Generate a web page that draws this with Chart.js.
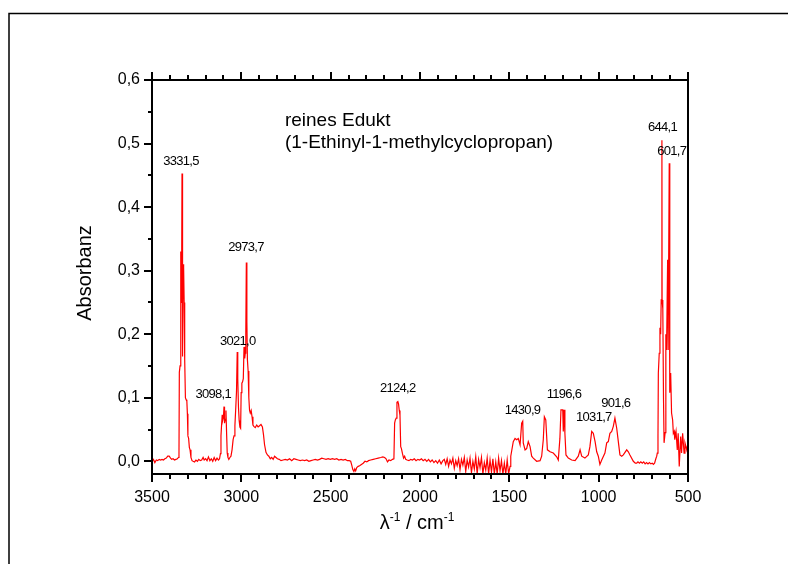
<!DOCTYPE html>
<html>
<head>
<meta charset="utf-8">
<script src="https://cdn.jsdelivr.net/npm/chart.js@4.4.0/dist/chart.umd.min.js"></script>
<style>
  html, body { margin: 0; padding: 0; background: #fff; }
  #wrap { width: 790px; height: 564px; }
</style>
</head>
<body>
<div id="wrap"><canvas id="js-spectrum" width="790" height="564"></canvas></div>
<script>
  /* ━━━━  DATA  ━━━━ */
  const wavenumbers = [
    3500,3492,3484,3476,3468,3460,3452,3444,3436,3428,3420,3412,3404,3396,3390,3382,3374,3366,3358,3352,
    3349,3347,3343,3340,3338,3336,3334,3332,3330,3328,3326,3323,3320,3317,3313,3309,3305,3302,3299,3295,
    3291,3287,3282,3276,3270,3262,3254,3246,3238,3230,3222,3214,3208,3200,3192,3184,3176,3168,3160,3152,
    3144,3136,3128,3122,3117,3114,3110,3107,3104,3100,3097,3094,3090,3086,3082,3079,3075,3070,3064,3058,
    3052,3046,3041,3036,3031,3027,3023,3020,3016,3012,3008,3004,3001,2997,2993,2989,2985,2981,2978,2975,
    2972,2969,2966,2962,2958,2954,2950,2945,2940,2935,2930,2922,2914,2906,2898,2890,2882,2876,2870,2862,
    2854,2846,2838,2830,2822,2814,2806,2798,2788,2778,2766,2754,2742,2730,2718,2706,2694,2682,2670,2658,
    2646,2634,2622,2610,2598,2586,2574,2562,2550,2538,2526,2514,2502,2490,2478,2466,2454,2442,2430,2418,
    2406,2396,2388,2382,2376,2370,2365,2360,2354,2346,2338,2328,2318,2308,2298,2288,2276,2262,2248,2234,
    2220,2208,2198,2190,2182,2174,2164,2154,2146,2142,2138,2133,2129,2124,2120,2116,2112,2108,2104,2098,
    2092,2086,2080,2072,2062,2052,2042,2032,2022,2012,2002,1992,1982,1972,1962,1952,1942,1932,1922,1912,
    1902,1892,1882,1872,
    1864,1856,1848,1840,1832,1824,1816,1808,1800,1792,1784,1776,1768,1760,1752,1744,1736,1728,1720,1712,
    1704,1696,1688,1680,1672,1664,1656,1648,1640,1632,1624,1616,1608,1600,1592,1584,1576,1568,1560,1552,
    1544,1536,1528,1520,1512,1504,1496,1492,
    1478,1468,1459,1450,1440,1431,1425,1422,1412,1403,1394,1384,1375,1366,1347,1328,1319,1310,1304,1296,
    1287,1272,1254,1235,1226,1217,1211,1201,1198,1194,1189,1183,1170,1151,1132,1114,1104,1095,1077,1058,
    1049,1039,1030,1020,1011,1002,993,983,965,955,946,937,927,918,909,899,890,881,871,862,
    843,834,825,806,795,787,780,772,764,756,748,740,732,724,716,708,700,694,687,680,
    675,672,668,666,661,657,653,650,646,645,641,637,634,628,624,620,614,611,605,602,
    597,592,586,582,577,574,567,560,555,549,541,536,530,522,517,507,500
  ];
  const absorbance = [
    0.000,0.003,-0.002,0.002,0.001,0.003,0.002,0.003,0.002,0.004,0.005,0.008,0.008,0.005,0.003,0.004,0.002,0.003,0.004,0.006,
    0.010,0.140,0.150,0.170,0.330,0.250,0.300,0.453,0.170,0.165,0.310,0.305,0.250,0.160,0.100,0.097,0.095,0.075,0.040,0.036,
    0.022,0.018,0.006,0.001,0.000,-0.001,0.002,0.000,0.003,0.001,0.002,0.006,0.002,0.004,0.001,0.007,0.001,0.004,0.000,0.006,
    0.001,0.005,0.002,0.004,0.012,0.040,0.060,0.073,0.065,0.070,0.086,0.060,0.066,0.080,0.040,0.013,0.006,0.003,0.006,0.008,
    0.018,0.034,0.040,0.056,0.085,0.110,0.172,0.130,0.085,0.064,0.054,0.052,0.108,0.123,0.125,0.130,0.180,0.162,0.170,0.200,
    0.313,0.220,0.160,0.142,0.100,0.080,0.076,0.080,0.070,0.057,0.055,0.053,0.057,0.054,0.056,0.058,0.054,0.042,0.026,0.014,
    0.010,0.008,0.004,0.006,0.003,0.008,0.006,0.004,0.003,0.001,0.002,0.003,0.002,0.004,0.001,0.004,0.003,0.002,0.001,0.002,
    0.001,0.002,0.000,0.001,0.002,0.003,0.002,0.003,0.005,0.004,0.003,0.004,0.003,0.004,0.003,0.004,0.002,0.003,0.002,0.003,
    0.001,0.001,0.000,-0.006,-0.013,-0.016,-0.012,-0.015,-0.010,-0.008,-0.007,-0.005,-0.003,0.000,-0.001,0.001,0.002,0.003,0.004,0.005,
    0.006,0.007,0.006,0.004,-0.001,0.002,0.001,0.003,0.004,0.060,0.065,0.068,0.093,0.094,0.090,0.080,0.072,0.023,0.020,0.012,
    0.005,0.008,0.003,0.002,0.001,0.003,0.002,0.004,0.001,0.003,0.002,0.004,0.001,0.003,0.000,0.003,-0.001,0.002,-0.002,0.001,
    -0.003,0.002,-0.004,0.001,
    0.003,-0.005,0.004,-0.008,0.002,-0.004,0.005,-0.011,0.001,-0.007,0.004,-0.013,0.003,-0.006,0.006,-0.016,0.002,-0.009,0.005,-0.018,
    0.000,-0.012,0.007,-0.020,0.003,-0.010,0.006,-0.020,-0.002,-0.014,0.005,-0.020,0.002,-0.017,0.004,-0.020,-0.001,-0.020,0.005,-0.015,
    0.001,-0.020,-0.003,-0.020,0.002,-0.020,-0.008,0.008,
    0.031,0.036,0.034,0.036,0.026,0.060,0.063,0.029,0.018,0.020,0.031,0.023,0.008,0.005,0.000,0.001,0.008,0.034,0.070,0.065,
    0.018,0.015,0.013,0.007,0.002,0.036,0.081,0.081,0.047,0.081,0.044,0.010,0.005,0.002,0.001,0.008,0.018,0.008,0.005,0.010,
    0.023,0.047,0.044,0.031,0.015,0.008,-0.005,0.002,0.013,0.029,0.031,0.044,0.047,0.055,0.068,0.052,0.031,0.010,0.008,0.010,
    0.018,0.015,0.010,0.000,-0.003,-0.003,-0.001,-0.003,-0.001,-0.003,-0.001,-0.004,-0.002,-0.004,-0.002,-0.004,-0.003,-0.005,-0.003,0.004,
    0.008,0.013,0.040,0.139,0.170,0.210,0.200,0.254,0.505,0.254,0.240,0.097,0.029,0.045,0.200,0.175,0.317,0.175,0.469,0.108,
    0.139,0.076,0.065,0.044,0.047,0.034,0.047,0.018,0.044,-0.008,0.039,0.013,0.044,0.013,0.029,0.018,0.029
  ];

  const xTickValues = [3500, 3000, 2500, 2000, 1500, 1000, 500];
  const xTickLabels = ['3500', '3000', '2500', '2000', '1500', '1000', '500'];
  const yTickValues = [0, 0.1, 0.2, 0.3, 0.4, 0.5, 0.6];
  const yTickLabels = ['0,0', '0,1', '0,2', '0,3', '0,4', '0,5', '0,6'];

  const peakLabels = ['3331,5', '3098,1', '3021,0', '2973,7', '2124,2', '1430,9', '1196,6', '1031,7', '901,6', '644,1', '601,7'];
  const peakLabelWn  = [3338, 3157, 3020, 2974, 2125, 1426, 1194, 1027, 904, 643, 591];
  const peakLabelAbs = [0.472, 0.106, 0.189, 0.336, 0.115, 0.080, 0.1045, 0.0695, 0.0915, 0.526, 0.487];

  const noteLines = ['reines Edukt', '(1-Ethinyl-1-methylcyclopropan)'];

  /* ━━━━  DECORATION PLUGIN  ━━━━ */
  const FONT = "'Liberation Sans', Arial, sans-serif";

  const decor = {
    id: 'decor',
    afterDraw(chart) {
      const { ctx, chartArea: a, scales: { x, y } } = chart;
      ctx.save();
      ctx.strokeStyle = '#000';

      // outer frame (top + left only)
      ctx.lineWidth = 1.5;
      ctx.beginPath();
      ctx.moveTo(9, 564); ctx.lineTo(9, 13.5); ctx.lineTo(788, 13.5);
      ctx.stroke();

      // plot box
      ctx.lineWidth = 2;
      ctx.strokeRect(a.left, a.top, a.right - a.left, a.bottom - a.top);

      // ticks
      const line = (x1, y1, x2, y2) => { ctx.beginPath(); ctx.moveTo(x1, y1); ctx.lineTo(x2, y2); ctx.stroke(); };
      for (let v = 500; v <= 3500; v += 100) {
        const px = Math.round(x.getPixelForValue(v));
        const len = v % 500 === 0 ? 8 : 5;
        line(px, a.bottom, px, a.bottom + len);
        line(px, a.top, px, a.top - len);
      }
      for (let k = 0; k <= 12; k++) {
        const py = Math.round(y.getPixelForValue(k * 0.05));
        const len = k % 2 === 0 ? 8 : 4;
        line(a.left - len, py, a.left, py);
      }

      // peak labels
      ctx.fillStyle = '#000';
      ctx.font = `13px ${FONT}`;
      ctx.letterSpacing = '-0.7px';
      ctx.textAlign = 'center';
      ctx.textBaseline = 'middle';
      peakLabels.forEach((t, i) => {
        ctx.fillText(t, x.getPixelForValue(peakLabelWn[i]), y.getPixelForValue(peakLabelAbs[i]));
      });

      // note
      ctx.letterSpacing = '0px';
      ctx.font = `19px ${FONT}`;
      ctx.textAlign = 'left';
      const nx = x.getPixelForValue(2756);
      ctx.fillText(noteLines[0], nx, y.getPixelForValue(0.536));
      ctx.fillText(noteLines[1], nx, y.getPixelForValue(0.501));

      // y title
      ctx.save();
      ctx.font = `20px ${FONT}`;
      ctx.textAlign = 'center';
      ctx.translate(85, (a.top + a.bottom) / 2 - 4);
      ctx.rotate(-Math.PI / 2);
      ctx.fillText('Absorbanz', 0, 0);
      ctx.restore();

      // x title: λ^-1 / cm^-1
      const parts = [['λ', 20, 0], ['-1', 12, -8], [' / cm', 20, 0], ['-1', 12, -8]];
      let total = 0;
      parts.forEach(p => { ctx.font = `${p[1]}px ${FONT}`; total += ctx.measureText(p[0]).width; });
      let cx = (a.left + a.right) / 2 - 3 - total / 2;
      const by = 529;
      ctx.textAlign = 'left';
      ctx.textBaseline = 'alphabetic';
      parts.forEach(p => {
        ctx.font = `${p[1]}px ${FONT}`;
        ctx.fillText(p[0], cx, by + p[2]);
        cx += ctx.measureText(p[0]).width;
      });

      ctx.restore();
    }
  };

  /* ━━━━  CHART  ━━━━ */
  const points = wavenumbers.map((wn, i) => ({ x: wn, y: absorbance[i] }));

  new Chart(document.getElementById('js-spectrum').getContext('2d'), {
    type: 'scatter',
    data: {
      datasets: [{
        data: points,
        showLine: true,
        borderColor: '#ff0000',
        borderWidth: 1.2,
        pointRadius: 0,
        tension: 0
      }]
    },
    options: {
      responsive: false,
      animation: false,
      layout: { padding: { left: 0, right: 102, top: 80, bottom: 0 } },
      plugins: { legend: { display: false }, tooltip: { enabled: false } },
      scales: {
        x: {
          type: 'linear',
          reverse: true,
          min: 500,
          max: 3500,
          grid: { display: false, drawTicks: false },
          border: { display: false },
          afterBuildTicks: s => { s.ticks = xTickValues.map(v => ({ value: v })); },
          afterFit: s => { s.height = 90; },
          ticks: {
            autoSkip: false,
            maxRotation: 0,
            padding: 14,
            color: '#000',
            font: { size: 16, family: FONT },
            callback: (v, i) => xTickLabels[i]
          }
        },
        y: {
          min: -0.02,
          max: 0.6,
          grid: { display: false, drawTicks: false },
          border: { display: false },
          afterBuildTicks: s => { s.ticks = yTickValues.map(v => ({ value: v })); },
          afterFit: s => { s.width = 152; },
          ticks: {
            padding: 12,
            color: '#000',
            font: { size: 16, family: FONT },
            callback: (v, i) => yTickLabels[i]
          }
        }
      }
    },
    plugins: [decor]
  });
</script>
</body>
</html>
